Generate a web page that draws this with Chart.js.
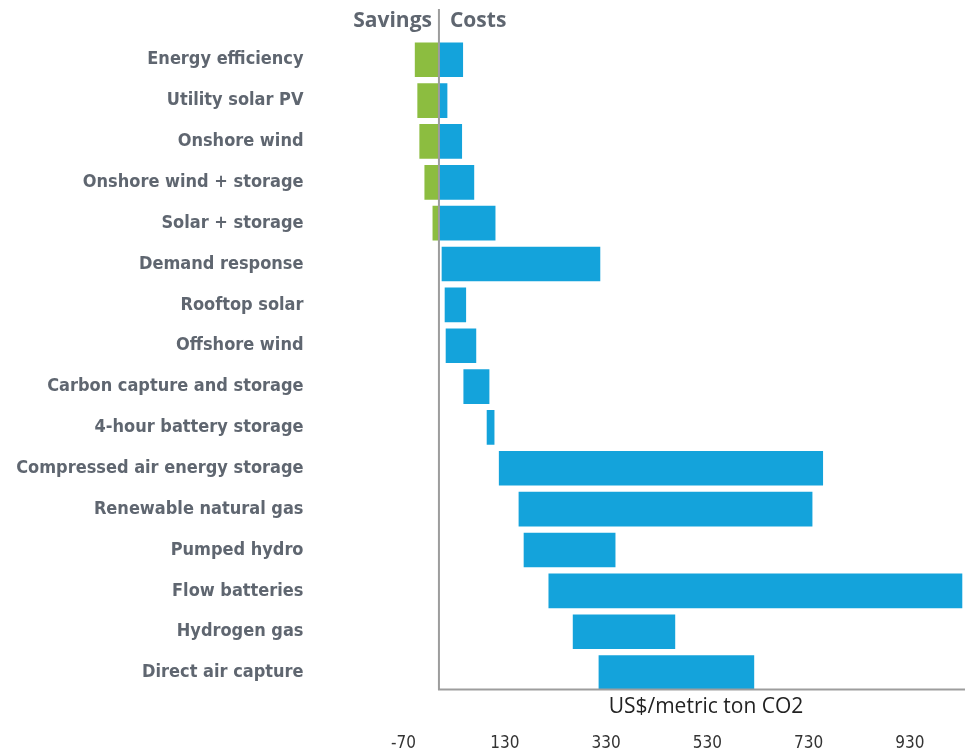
<!DOCTYPE html>
<html>
<head>
<meta charset="utf-8">
<script src="https://cdn.jsdelivr.net/npm/chart.js@4.4.1/dist/chart.umd.min.js"></script>
<style>
  html, body { margin: 0; padding: 0; background: #fff; }
  #wrap { width: 965px; height: 755px; }
</style>
</head>
<body>
<div id="wrap"><canvas id="chart"></canvas></div>
<script>
const categories = [
  'Energy efficiency', 'Utility solar PV', 'Onshore wind', 'Onshore wind + storage',
  'Solar + storage', 'Demand response', 'Rooftop solar', 'Offshore wind',
  'Carbon capture and storage', '4-hour battery storage', 'Compressed air energy storage',
  'Renewable natural gas', 'Pumped hydro', 'Flow batteries', 'Hydrogen gas', 'Direct air capture'
]
// savings side (negative cost), only the first five have one
const savings = [-47, -42, -38, -28, -12, null, null, null, null, null, null, null, null, null, null, null]
// cost range low / high
const costLow = [0, 0, 0, 0, 0, 6, 12, 14, 49, 95, 119, 158, 168, 217, 265, 316]
const costHigh = [47, 16, 45, 69, 111, 318, 53, 73, 99, 109, 758, 737, 348, 1033, 466, 622]
const tickValues = [-70, 130, 330, 530, 730, 930]

const labelColor = '#5f6670'
const barThickness = 34

const savingsData = savings.map(v => v === null ? null : [v, 0])
const costData = costLow.map((lo, i) => [lo, costHigh[i]])

const axisLines = {
  id: 'axisLines',
  afterDatasetsDraw(chart) {
    const { ctx, chartArea, scales: { x, y } } = chart
    const zero = x.getPixelForValue(0)
    const bottom = y.getPixelForValue(categories.length - 1) + barThickness / 2
    ctx.save()
    ctx.strokeStyle = '#9d9d9d'
    ctx.lineWidth = 2
    ctx.beginPath()
    ctx.moveTo(zero, 9)
    ctx.lineTo(zero, bottom)
    ctx.lineTo(chartArea.right, bottom)
    ctx.stroke()

    ctx.fillStyle = labelColor
    ctx.font = 'bold 21px "Open Sans"'
    ctx.textBaseline = 'alphabetic'
    ctx.textAlign = 'right'
    ctx.fillText('Savings', zero - 7, 27)
    ctx.textAlign = 'left'
    ctx.fillText('Costs', zero + 11, 27)

    ctx.fillStyle = '#222'
    ctx.font = '21px "Open Sans"'
    ctx.textAlign = 'center'
    ctx.fillText('US$/metric ton CO2', (zero + chartArea.right) / 2 + 4, 713)
    ctx.restore()
  }
}

new Chart(document.getElementById('chart'), {
  type: 'bar',
  data: {
    labels: categories,
    datasets: [{
      label: 'Savings',
      data: savingsData,
      backgroundColor: '#8cbd40',
      barThickness: barThickness,
      grouped: false
    }, {
      label: 'Costs',
      data: costData,
      backgroundColor: '#14a3db',
      barThickness: barThickness,
      grouped: false
    }]
  },
  options: {
    indexAxis: 'y',
    responsive: true,
    maintainAspectRatio: false,
    animation: false,
    layout: { padding: { top: 39.3, left: 0, right: 0, bottom: 0 } },
    plugins: {
      legend: { display: false },
      tooltip: { enabled: false }
    },
    scales: {
      x: {
        type: 'linear',
        min: -70,
        max: 1039,
        afterBuildTicks: s => { s.ticks = tickValues.map(v => ({ value: v })) },
        afterFit: s => { s.height = 62; s.paddingLeft = 0; s.paddingRight = 0 },
        grid: { display: false, drawTicks: false },
        border: { display: false },
        ticks: {
          padding: 40,
          color: '#333',
          font: { family: '"DejaVu Sans Condensed", sans-serif', size: 17 }
        }
      },
      y: {
        afterFit: s => { s.width = 403.5; s.paddingTop = 0; s.paddingBottom = 0 },
        grid: { display: false, drawTicks: false },
        border: { display: false },
        ticks: {
          padding: 100,
          color: labelColor,
          font: { family: '"DejaVu Sans Condensed", sans-serif', size: 18, weight: 'bold' }
        }
      }
    }
  },
  plugins: [axisLines]
})
</script>
</body>
</html>
